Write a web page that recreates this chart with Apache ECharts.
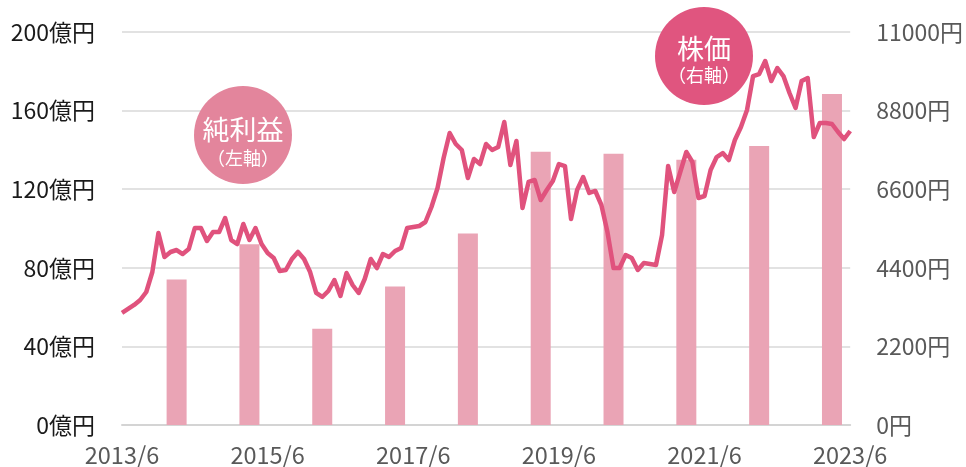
<!DOCTYPE html>
<html>
<head>
<meta charset="utf-8">
<script src="https://cdn.jsdelivr.net/npm/echarts@6/dist/echarts.min.js"></script>
<style>html,body{margin:0;padding:0;background:#fff}#c{width:966px;height:467px}</style>
</head>
<body>
<div id="c"></div>
<script>
// Monthly categories 2013/6 .. 2023/6
const startYear = 2013, startMonth = 6, monthCount = 121;
const months = [];
for (let i = 0; i < monthCount; i++) {
  const m = startMonth - 1 + i;
  months.push((startYear + Math.floor(m / 12)) + '/' + (m % 12 + 1));
}
// Net profit (left axis, 億円), fiscal year ending March
const profitMonths = ['2014/3','2015/3','2016/3','2017/3','2018/3','2019/3','2020/3','2021/3','2022/3','2023/3'];
const profitValues = [74, 92, 49, 70.5, 97.5, 139, 138, 135, 142, 168.5];
// Share price (right axis, 円), monthly
const priceValues = [
  3135,3247,3359,3499,3723,4282,5374,4702,4842,4898,4786,4926,
  5514,5514,5150,5402,5402,5794,5178,5066,5626,5178,5514,5066,
  4814,4674,4310,4338,4646,4842,4646,4282,3695,3583,3751,4059,
  3611,4254,3919,3695,4087,4646,4394,4786,4702,4870,4954,5514,
  5542,5570,5682,6102,6634,7473,8173,7865,7697,6914,7445,7305,
  7865,7697,7781,8481,7277,7949,6074,6802,6858,6298,6578,6830,
  7305,7249,5766,6578,6942,6494,6550,6158,5402,4394,4394,4758,
  4674,4338,4534,4506,4478,5318,7249,6522,7081,7641,7361,6354,
  6410,7137,7501,7613,7417,7977,8341,8817,9768,9824,10188,9629,
  9992,9768,9293,8873,9629,9713,8061,8453,8453,8425,8201,8005,
  8229
];
const leftTicks = {min: 0, max: 200, interval: 40};
const rightTicks = {min: 0, max: 11000, interval: 2200};

const barData = months.map(m => {
  const k = profitMonths.indexOf(m);
  return k >= 0 ? profitValues[k] : null;
});

const FONT = '"Noto Sans CJK JP", "Noto Sans", sans-serif';
const chart = echarts.init(document.getElementById('c'), null, {renderer: 'canvas'});
chart.setOption({
  animation: false,
  backgroundColor: '#ffffff',
  grid: {left: 122, right: 113, top: 32, bottom: 42},
  xAxis: {
    type: 'category',
    data: months,
    boundaryGap: false,
    axisLine: {show: true, lineStyle: {color: '#d4d4d4', width: 2}},
    axisTick: {show: false},
    axisLabel: {
      interval: (idx) => idx % 24 === 0,
      color: '#595959', fontSize: 23.5, fontFamily: FONT, margin: 18
    }
  },
  yAxis: [
    {
      type: 'value', min: leftTicks.min, max: leftTicks.max, interval: leftTicks.interval,
      axisLine: {show: false}, axisTick: {show: false},
      splitLine: {lineStyle: {color: '#d9d9d9', width: 1.5}},
      axisLabel: {formatter: v => v + '億円', color: '#1a1a1a', fontSize: 23, fontFamily: FONT, margin: 27}
    },
    {
      type: 'value', min: rightTicks.min, max: rightTicks.max, interval: rightTicks.interval,
      axisLine: {show: false}, axisTick: {show: false},
      splitLine: {show: false},
      axisLabel: {formatter: v => v + '円', color: '#595959', fontSize: 23, fontFamily: FONT, margin: 26}
    }
  ],
  series: [
    {
      type: 'bar', yAxisIndex: 0, data: barData, barWidth: 20,
      itemStyle: {color: '#eaa4b5'}, z: 2
    },
    {
      type: 'line', yAxisIndex: 1, data: priceValues, symbol: 'none',
      lineStyle: {color: '#e0527d', width: 4.5, join: 'round'}, z: 3
    }
  ],
  graphic: [
    {type: 'circle', shape: {cx: 243, cy: 135, r: 49}, style: {fill: '#e3859c'}, z: 10},
    {type: 'text', x: 243, y: 130, style: {text: '純利益', fill: '#fff', font: '400 27px ' + FONT, textAlign: 'center', textVerticalAlign: 'middle'}, z: 11},
    {type: 'text', x: 243, y: 158, style: {text: '（左軸）', fill: '#fff', font: '400 18px ' + FONT, textAlign: 'center', textVerticalAlign: 'middle'}, z: 11},
    {type: 'circle', shape: {cx: 704, cy: 56, r: 49}, style: {fill: '#e0557f'}, z: 10},
    {type: 'text', x: 704, y: 49, style: {text: '株価', fill: '#fff', font: '400 27px ' + FONT, textAlign: 'center', textVerticalAlign: 'middle'}, z: 11},
    {type: 'text', x: 704, y: 75, style: {text: '（右軸）', fill: '#fff', font: '400 18px ' + FONT, textAlign: 'center', textVerticalAlign: 'middle'}, z: 11}
  ]
});
</script>
</body>
</html>
